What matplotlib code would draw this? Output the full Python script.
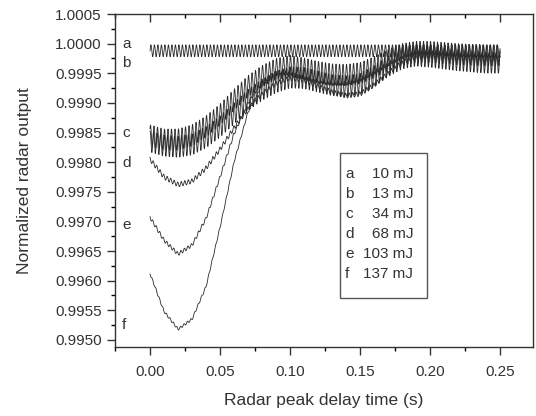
import numpy as np
import matplotlib
matplotlib.use("Agg")
import matplotlib.pyplot as plt
from matplotlib.ticker import MultipleLocator, FormatStrFormatter

plt.rcParams["font.family"] = ["Liberation Sans", "DejaVu Sans"]

# slow trend of each trace, read at these delay times (s)
t_knots = [0.00, 0.01, 0.02, 0.03, 0.04, 0.05, 0.06, 0.07, 0.08, 0.09, 0.10, 0.11, 0.12,
           0.13, 0.14, 0.15, 0.16, 0.17, 0.18, 0.19, 0.20, 0.21, 0.22, 0.23, 0.24, 0.25]

trend_a = [0.99988] * 26
trend_b = [0.99845, 0.99838, 0.99838, 0.99845, 0.99860, 0.99880, 0.99905, 0.99928, 0.99945,
           0.99957, 0.99962, 0.99958, 0.99952, 0.99948, 0.99947, 0.99950, 0.99960, 0.99972,
           0.99982, 0.99986, 0.99986, 0.99984, 0.99982, 0.99981, 0.99980, 0.99980]
trend_c = [0.99835, 0.99828, 0.99826, 0.99830, 0.99842, 0.99860, 0.99882, 0.99905, 0.99922,
           0.99935, 0.99943, 0.99942, 0.99936, 0.99930, 0.99928, 0.99932, 0.99945, 0.99962,
           0.99975, 0.99980, 0.99978, 0.99975, 0.99972, 0.99970, 0.99968, 0.99968]
trend_d = [0.99805, 0.99775, 0.99762, 0.99768, 0.99790, 0.99822, 0.99858, 0.99890, 0.99915,
           0.99933, 0.99942, 0.99938, 0.99928, 0.99918, 0.99912, 0.99915, 0.99930, 0.99950,
           0.99968, 0.99978, 0.99980, 0.99978, 0.99976, 0.99975, 0.99974, 0.99974]
trend_e = [0.99707, 0.99668, 0.99645, 0.99660, 0.99705, 0.99775, 0.99848, 0.99900, 0.99935,
           0.99952, 0.99950, 0.99942, 0.99935, 0.99932, 0.99933, 0.99940, 0.99952, 0.99966,
           0.99978, 0.99985, 0.99985, 0.99983, 0.99981, 0.99980, 0.99979, 0.99978]
trend_f = [0.99612, 0.99548, 0.99518, 0.99535, 0.99590, 0.99690, 0.99800, 0.99885, 0.99930,
           0.99948, 0.99950, 0.99944, 0.99936, 0.99932, 0.99932, 0.99938, 0.99950, 0.99964,
           0.99976, 0.99984, 0.99985, 0.99983, 0.99981, 0.99980, 0.99979, 0.99978]

# ripple half-amplitude of each trace and the ripple period (s)
ripple_amp = [0.00010, 0.00018, 0.00018, 0.00004, 0.00003, 0.00002]
ripple_period = 0.0025

trace_names = ["a", "b", "c", "d", "e", "f"]
energies = ["10 mJ", "13 mJ", "34 mJ", "68 mJ", "103 mJ", "137 mJ"]
label_y = [1.00000, 0.99967, 0.99850, 0.99798, 0.99694, 0.99525]

trends = [trend_a, trend_b, trend_c, trend_d, trend_e, trend_f]

fig = plt.figure(figsize=(5.36, 4.16), dpi=100)
ax = fig.add_axes([0.2146, 0.1659, 0.78, 0.8004])

t = np.linspace(0, 0.25, 2001)
for i, (trend, amp) in enumerate(zip(trends, ripple_amp)):
    base = np.interp(t, t_knots, trend)
    y = base + amp * np.sin(2 * np.pi * t / ripple_period + i * 0.7)
    ax.plot(t, y, color="#2a2a2a", lw=0.6)

for name, yl in zip(trace_names, label_y):
    ax.text(-0.02, yl, name, fontsize=11, ha="left", va="center", color="#333333")

# legend box drawn as text in a frame
box_x0, box_x1 = 0.1357, 0.1979
ax.add_patch(plt.Rectangle((box_x0, 0.99571), box_x1 - box_x0, 0.00245,
                           fill=False, edgecolor="#555555", lw=1.0, zorder=3))
for k, (name, en) in enumerate(zip(trace_names, energies)):
    yy = 0.99780 - k * 0.000337
    ax.text(0.1393, yy, name, fontsize=11, ha="left", va="center", color="#333333")
    ax.text(0.1879, yy, en, fontsize=11, ha="right", va="center", color="#333333")

ax.set_xlim(-0.025, 0.2736)
ax.set_ylim(0.99488, 1.0005)
ax.xaxis.set_minor_locator(MultipleLocator(0.025))
ax.yaxis.set_major_locator(MultipleLocator(0.0005))
ax.yaxis.set_minor_locator(MultipleLocator(0.00025))
ax.set_xticks([0, 0.05, 0.10, 0.15, 0.20, 0.25])
ax.set_xticklabels(["0.00", "0.05", "0.10", "0.15", "0.20", "0.25"])
ax.yaxis.set_major_formatter(FormatStrFormatter("%.4f"))

ax.tick_params(axis="x", which="major", direction="out", length=6, width=1, top=True,
               labelsize=11, colors="#333333", pad=7)
ax.tick_params(axis="x", which="minor", direction="out", length=3, width=1, top=True)
ax.tick_params(axis="y", which="major", direction="out", length=6, width=1,
               labelsize=11, colors="#333333")
ax.tick_params(axis="y", which="minor", direction="out", length=3, width=1)
for tk in ax.xaxis.get_major_ticks() + ax.xaxis.get_minor_ticks():
    tk.tick2line.set_marker(3)  # top ticks point down into the plot
for sp in ax.spines.values():
    sp.set_color("#333333")
    sp.set_linewidth(1.0)

ax.set_xlabel("Radar peak delay time (s)", fontsize=12.5, color="#333333", labelpad=10)
ax.set_ylabel("Normalized radar output", fontsize=12.5, color="#333333", labelpad=17)

fig.savefig("out.png", dpi=100)
